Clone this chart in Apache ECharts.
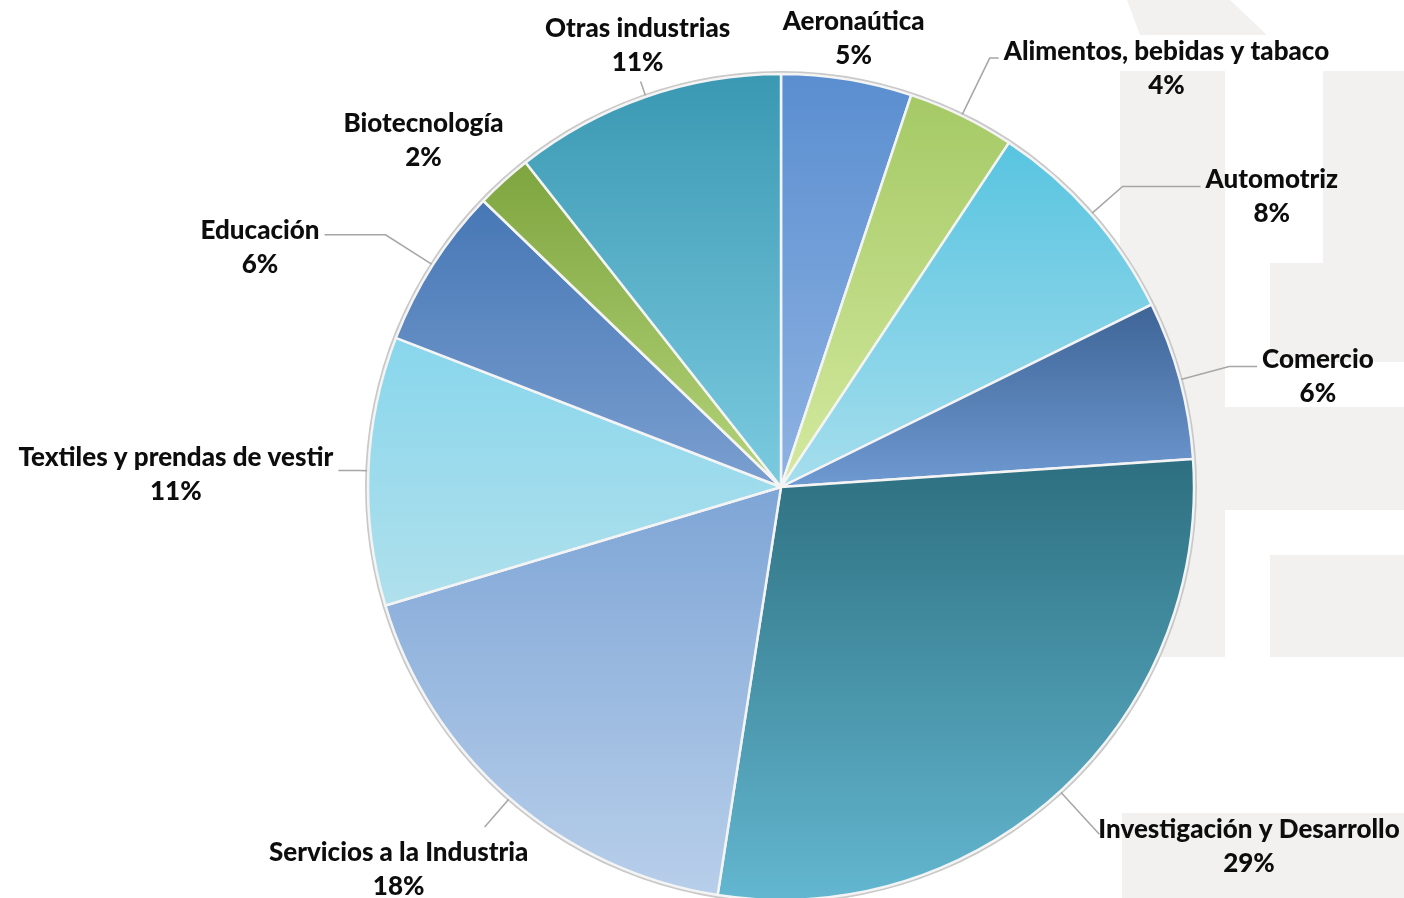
<!DOCTYPE html>
<html>
<head>
<meta charset="utf-8">
<script src="https://cdn.jsdelivr.net/npm/echarts@6/dist/echarts.min.js"></script>
<style>
  html, body { margin: 0; padding: 0; background: #fff; }
  #chart { width: 1404px; height: 898px; }
</style>
</head>
<body>
<div id="chart"></div>
<script>
// sectores, en el orden de las agujas del reloj desde arriba
var categories = [
    'Aeronaútica',
    'Alimentos, bebidas y tabaco',
    'Automotriz',
    'Comercio',
    'Investigación y Desarrollo',
    'Servicios a la Industria',
    'Textiles y prendas de vestir',
    'Educación',
    'Biotecnología',
    'Otras industrias'
];
// porcentajes (los ángulos), redondeados en la etiqueta
var values = [5.1, 4.2, 8.4, 6.2, 28.5, 17.9, 10.5, 6.3, 2.2, 10.6];

// degradado de cada sector: [arriba, abajo]
var colorTop = ['#5a8ed0', '#a5c965', '#58c4e0', '#3e6496', '#2d6f80', '#7ea5d6', '#88d6ec', '#4677b5', '#7ea53f', '#3a98b2'];
var colorBottom = ['#8fb3e2', '#d4eaa0', '#a6deed', '#6f9ad2', '#63b7d0', '#b8cfea', '#b0e0ec', '#7b9fd0', '#b5d47a', '#7ccbe0'];

// guías de las etiquetas (como en Excel)
var lineLen = [42, 64, 42, 51, 58, 38, 10, 56, 60, 16];
var lineLen2 = [0, 9, 78, 28, 0, 0, 20, 61, 40, 0];
var lineShow = [false, true, true, true, true, true, true, true, false, true];
// 'edge': el texto empieza al final de la guía; 'center': centrado en ella
var labelPlace = ['center', 'edge', 'edge', 'edge', 'edge', 'center', 'edge', 'edge', 'center', 'center'];
var labelShift = [[-5, 1], [0, 11], [0, 10], [0, 10], [-6, 12], [-81, 43], [0, 4], [0, 13], [5, 4], [2, -36]];

var cx = 781, cy = 487, r = 413;

var chart = echarts.init(document.getElementById('chart'));

var pieData = categories.map(function (name, i) {
    return {
        name: name,
        value: values[i],
        itemStyle: {
            color: new echarts.graphic.LinearGradient(0, 0, 0, 1, [
                {offset: 0, color: colorTop[i]},
                {offset: 1, color: colorBottom[i]}
            ])
        },
        labelLine: {show: lineShow[i], length: lineLen[i], length2: lineLen2[i]}
    };
});

// marca de agua gris de fondo
var bg = '#f2f1f0';
var bgRects = [
    [1120, 71, 105, 586],
    [1323, 71, 81, 192],
    [1270, 263, 134, 99],
    [1120, 407, 284, 103],
    [1270, 555, 134, 102],
    [1122, 813, 282, 85]
];

var option = {
    backgroundColor: '#fff',
    animation: false,
    graphic: bgRects.map(function (b) {
        return {type: 'rect', z: 0, silent: true, shape: {x: b[0], y: b[1], width: b[2], height: b[3]}, style: {fill: bg}};
    }).concat([{
        type: 'polygon', z: 0, silent: true,
        shape: {points: [[1127, 0], [1230, 0], [1267, 35], [1140, 35]]},
        style: {fill: bg}
    }]),
    series: [
        {
            // borde exterior gris
            type: 'pie',
            center: [cx, cy],
            radius: [r, r + 3],
            silent: true,
            label: {show: false},
            labelLine: {show: false},
            itemStyle: {color: '#c9c9c9'},
            data: [{value: 1, name: ''}],
            z: 1
        },
        {
            type: 'pie',
            center: [cx, cy],
            radius: r,
            startAngle: 90,
            clockwise: true,
            avoidLabelOverlap: false,
            z: 2,
            itemStyle: {
                borderColor: '#f4f4f4',
                borderWidth: 2.5
            },
            label: {
                show: true,
                position: 'outside',
                alignTo: 'none',
                fontFamily: 'Lato',
                fontWeight: 900,
                fontSize: 26,
                lineHeight: 34,
                color: '#0d0d0d',
                formatter: function (p) {
                    return p.name + '\n' + Math.round(p.percent) + '%';
                }
            },
            labelLine: {
                minTurnAngle: 0,
                lineStyle: {color: '#a6a6a6', width: 1.5}
            },
            labelLayout: function (p) {
                var i = p.dataIndex;
                var w = p.labelRect.width;
                var sign = p.align === 'right' ? -1 : 1;
                var dx = labelPlace[i] === 'edge' ? sign * w / 2 : 0;
                return {align: 'center', dx: dx + labelShift[i][0], dy: labelShift[i][1]};
            },
            data: pieData
        }
    ]
};

chart.setOption(option);
</script>
</body>
</html>
